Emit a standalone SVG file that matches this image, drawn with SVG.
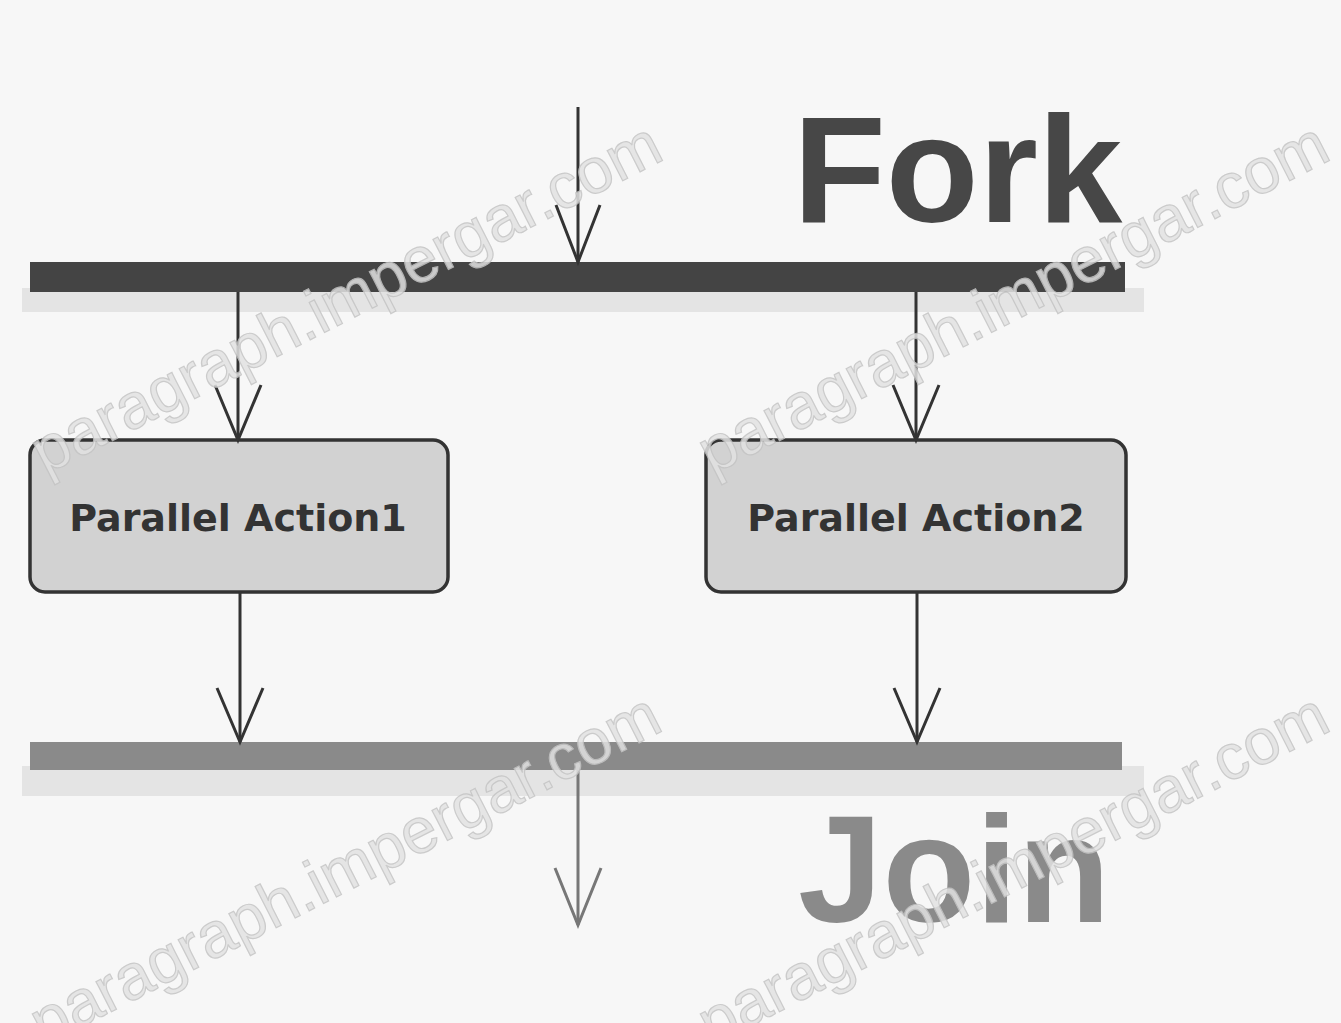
<svg xmlns="http://www.w3.org/2000/svg" width="1341" height="1023" viewBox="0 0 1341 1023">
<defs>
<style>
.bar-shadow{fill:#e4e4e4}
.node rect{fill:#d2d2d2;stroke:#333;stroke-width:3.5}
.node text{font-family:"DejaVu Sans",sans-serif;font-weight:bold;font-size:38px;fill:#333;text-anchor:middle}
.conn line{stroke:#333;stroke-width:3;fill:none}
.conn path{stroke:#333;stroke-width:3;fill:none}
.title{font-family:"Liberation Sans",Arial,sans-serif;font-weight:bold;font-size:152px}
.wm{font-family:"Liberation Sans",sans-serif;font-size:64px;fill:#e2e2e2;stroke:#c4c4c4;stroke-width:1.2;opacity:0.85}
</style>
</defs>
<rect width="1341" height="1023" fill="#f7f7f7"/>

<g id="fork-bar">
<rect class="bar-shadow" x="22" y="288" width="1122" height="24"/>
<rect x="30" y="262" width="1095" height="30" fill="#444"/>
</g>
<g id="join-bar">
<rect class="bar-shadow" x="22" y="766" width="1122" height="30"/>
<rect x="30" y="742" width="1092" height="28" fill="#8a8a8a"/>
</g>

<g id="fork-label"><text class="title" x="793" y="222" fill="#474747">Fork</text></g>
<g id="join-label"><text class="title" x="798" y="922" fill="#8a8a8a">Join</text></g>

<g id="action1" class="node">
<rect x="30" y="440" width="418" height="152" rx="15"/>
<text x="238" y="531">Parallel Action1</text>
</g>
<g id="action2" class="node">
<rect x="706" y="440" width="420" height="152" rx="15"/>
<text x="916" y="531">Parallel Action2</text>
</g>

<g id="connectors" class="conn">
<line x1="578" y1="107" x2="578" y2="262"/>
<path d="M556,205 L578,262 L600,205"/>
<line x1="238" y1="292" x2="238" y2="440"/>
<path d="M215,385 L238,440 L261,385"/>
<line x1="916" y1="292" x2="916" y2="440"/>
<path d="M893,385 L916,440 L939,385"/>
<line x1="240" y1="592" x2="240" y2="742"/>
<path d="M217,688 L240,742 L263,688"/>
<line x1="917" y1="592" x2="917" y2="742"/>
<path d="M894,688 L917,742 L940,688"/>
<line x1="578" y1="770" x2="578" y2="925" style="stroke:#777"/>
<path d="M555,868 L578,925 L601,868" style="stroke:#777"/>
</g>

<g id="watermarks">
<text class="wm" transform="translate(45,475) rotate(-27)">paragraph.impergar.com</text>
<text class="wm" transform="translate(712,475) rotate(-27)">paragraph.impergar.com</text>
<text class="wm" transform="translate(44,1046) rotate(-27)">paragraph.impergar.com</text>
<text class="wm" transform="translate(712,1046) rotate(-27)">paragraph.impergar.com</text>
</g>
</svg>
